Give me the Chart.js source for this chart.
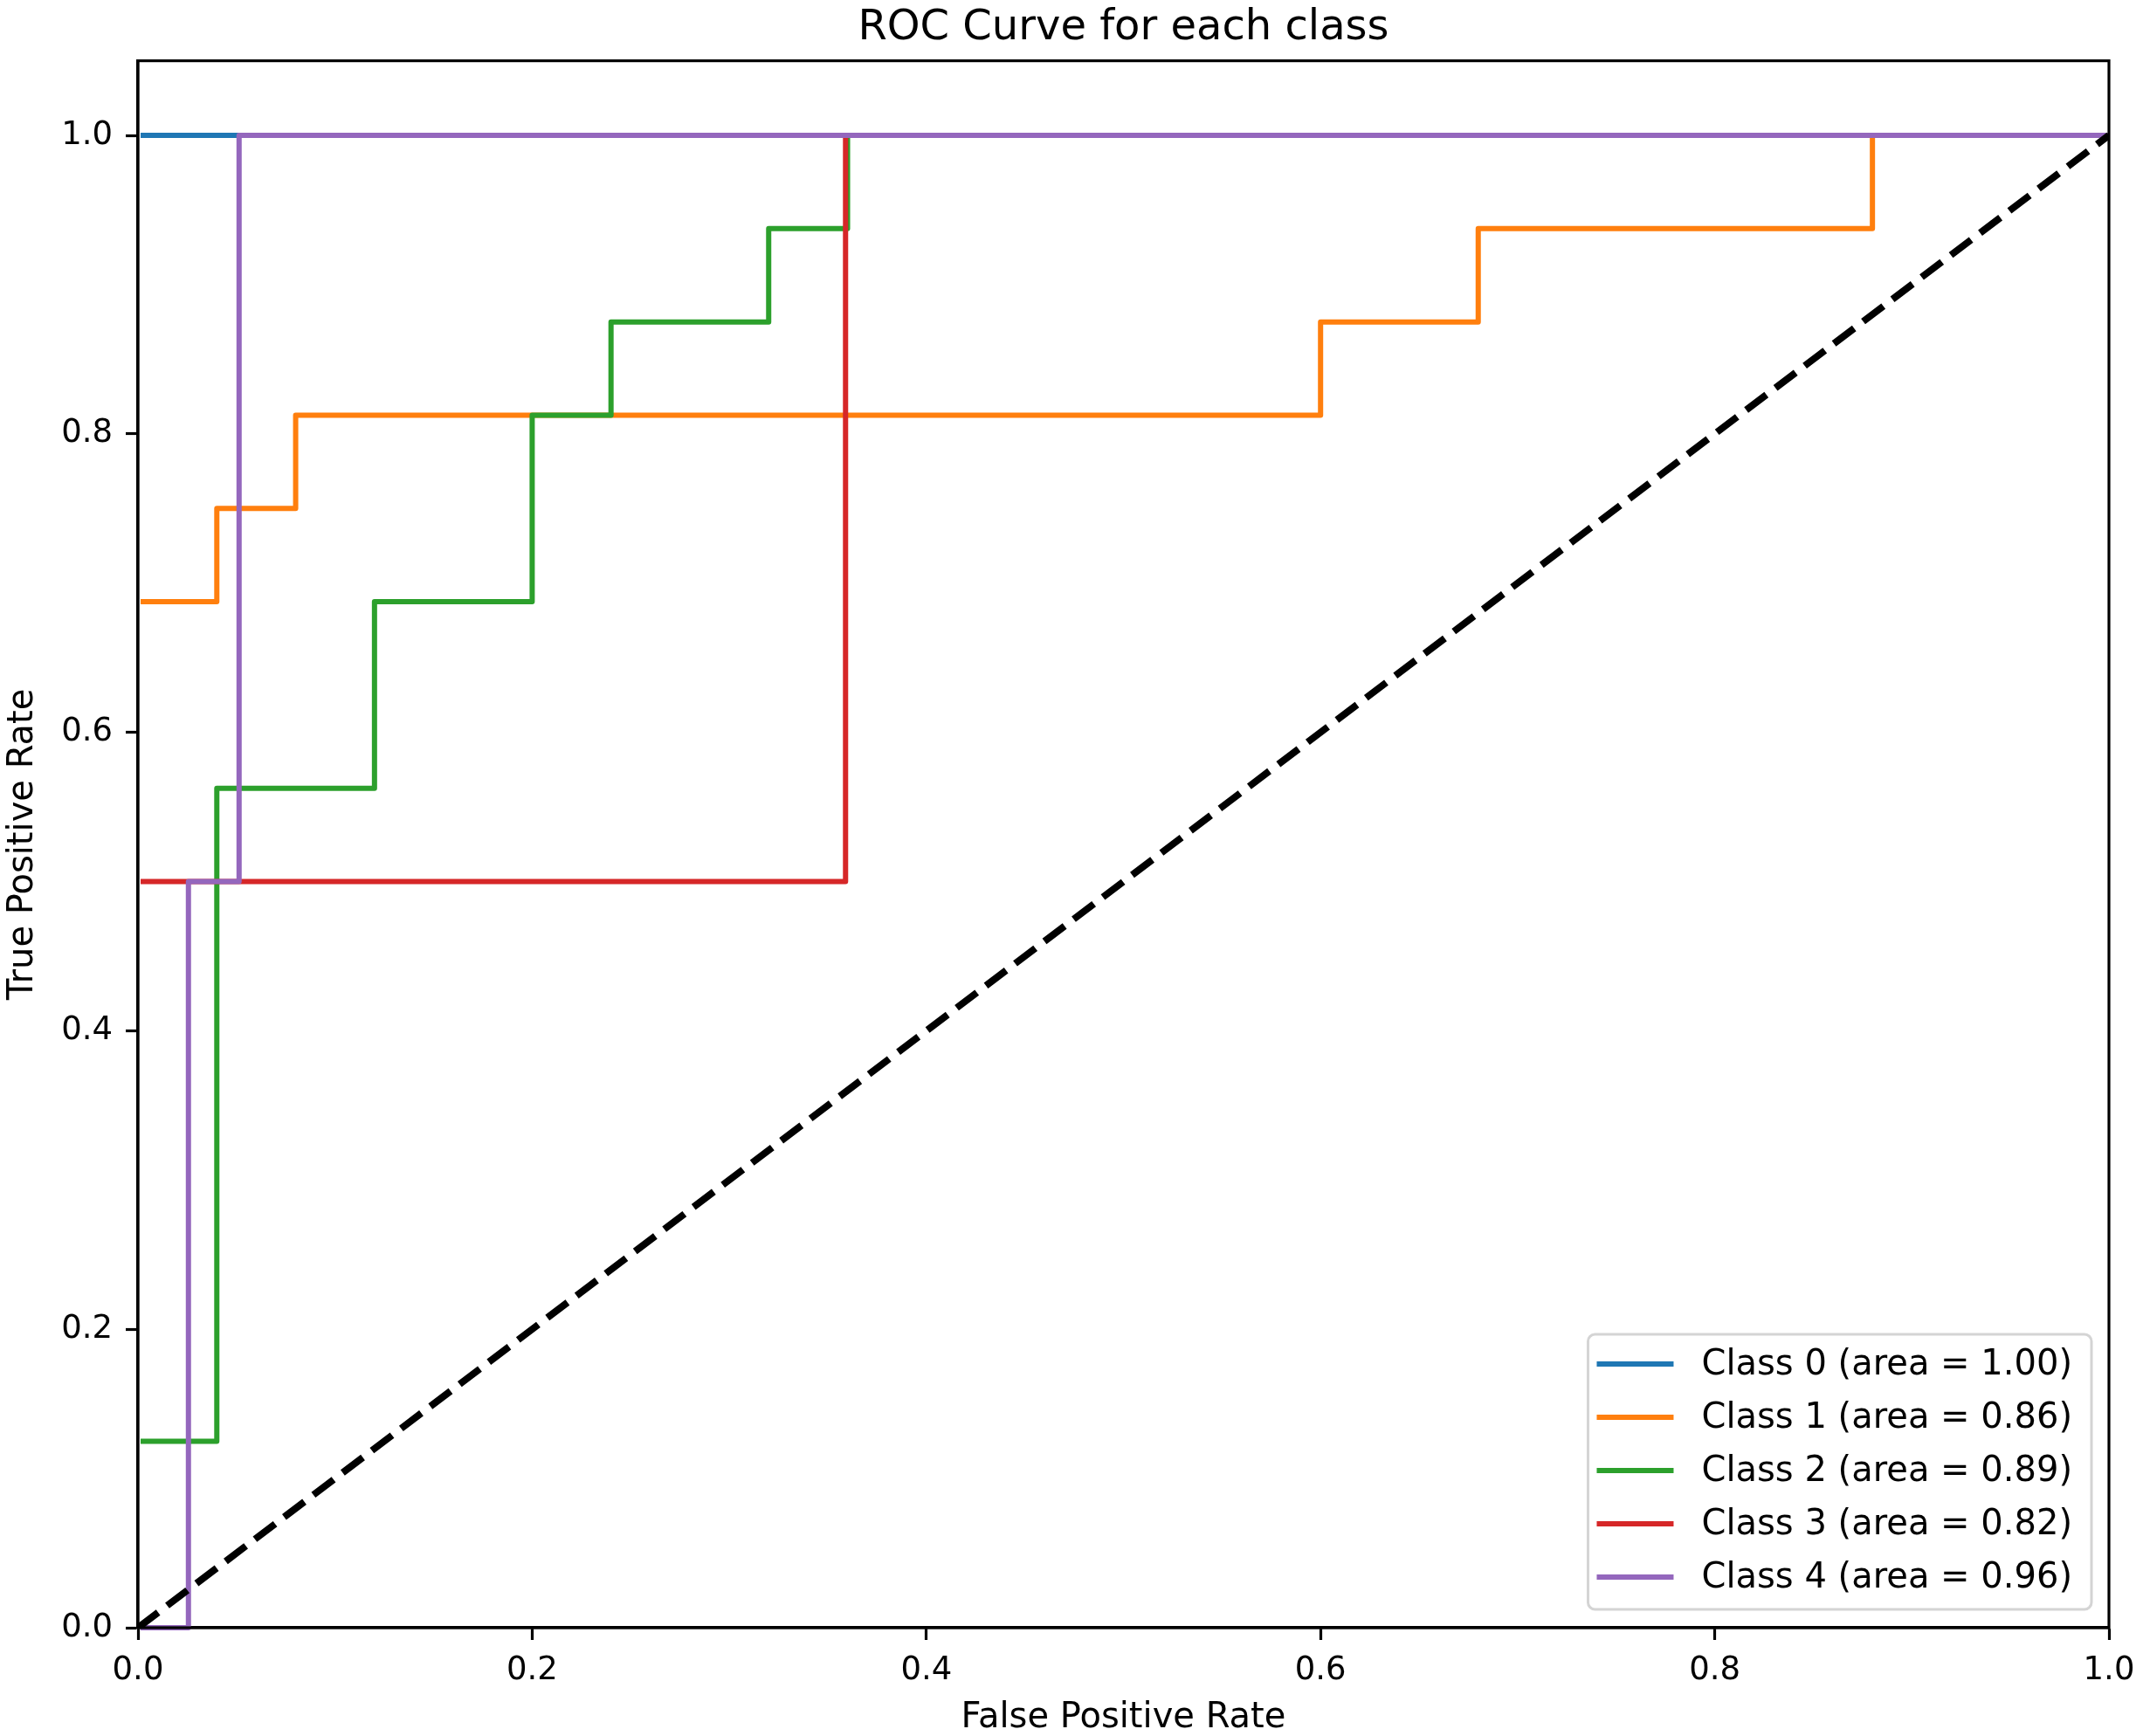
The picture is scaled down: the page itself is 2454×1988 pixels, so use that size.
<!DOCTYPE html>
<html>
<head>
<meta charset="utf-8">
<script src="https://cdn.jsdelivr.net/npm/chart.js@4.4.1/dist/chart.umd.min.js"></script>
<style>
  html, body { margin: 0; padding: 0; background: #ffffff; }
  #wrap { width: 2454px; height: 1988px; }
</style>
</head>
<body>
<div id="wrap"><canvas id="c" width="2454" height="1988"></canvas></div>
<script>
// ---------------- DATA ----------------
const chartTitle = 'ROC Curve for each class';
const xAxisTitle = 'False Positive Rate';
const yAxisTitle = 'True Positive Rate';

const classLabels = [
  'Class 0 (area = 1.00)',
  'Class 1 (area = 0.86)',
  'Class 2 (area = 0.89)',
  'Class 3 (area = 0.82)',
  'Class 4 (area = 0.96)'
];
const classColors = ['#1f77b4', '#ff7f0e', '#2ca02c', '#d62728', '#9467bd'];

const fpr0 = [0, 0, 1];
const tpr0 = [0, 1, 1];

const fpr1 = [0, 0, 0.04, 0.04, 0.08, 0.08, 0.60, 0.60, 0.68, 0.68, 0.88, 0.88, 1];
const tpr1 = [0, 0.6875, 0.6875, 0.75, 0.75, 0.8125, 0.8125, 0.875, 0.875, 0.9375, 0.9375, 1, 1];

const fpr2 = [0, 0, 0.04, 0.04, 0.12, 0.12, 0.20, 0.20, 0.24, 0.24, 0.32, 0.32, 0.36, 0.36, 1];
const tpr2 = [0, 0.125, 0.125, 0.5625, 0.5625, 0.6875, 0.6875, 0.8125, 0.8125, 0.875, 0.875, 0.9375, 0.9375, 1, 1];

const fpr3 = [0, 0, 0.359, 0.359, 1];
const tpr3 = [0, 0.5, 0.5, 1, 1];

const fpr4 = [0, 0.0256, 0.0256, 0.0513, 0.0513, 1];
const tpr4 = [0, 0, 0.5, 0.5, 1, 1];

const diagX = [0, 1];
const diagY = [0, 1];

const xTickValues = [0, 0.2, 0.4, 0.6, 0.8, 1.0];
const yTickValues = [0, 0.2, 0.4, 0.6, 0.8, 1.0];
const xRange = [0, 1];
const yRange = [0, 1.05];

// ---------------- BUILD ----------------
const fprs = [fpr0, fpr1, fpr2, fpr3, fpr4];
const tprs = [tpr0, tpr1, tpr2, tpr3, tpr4];
const toPts = (xs, ys) => xs.map((x, i) => ({ x: x, y: ys[i] }));

const FONT = '"DejaVu Sans", "Liberation Sans", sans-serif';
const CLIP = { left: -3, top: 3, right: 0, bottom: 3 };

const datasets = classLabels.map((lab, i) => ({
  label: lab,
  data: toPts(fprs[i], tprs[i]),
  borderColor: classColors[i],
  backgroundColor: classColors[i],
  borderWidth: 6,
  pointRadius: 0,
  showLine: true,
  tension: 0,
  fill: false,
  clip: CLIP,
  borderJoinStyle: 'round',
  borderCapStyle: 'square',
  order: 5 - i
}));
datasets.push({
  label: 'diagonal',
  data: toPts(diagX, diagY),
  borderColor: '#000000',
  backgroundColor: '#000000',
  borderWidth: 8,
  borderDash: [29, 13],
  pointRadius: 0,
  showLine: true,
  tension: 0,
  fill: false,
  clip: { left: 0, top: 0, right: 0, bottom: 0 },
  order: 0
});

const frameAndLegend = {
  id: 'frameAndLegend',
  afterDatasetsDraw(chart) {
    const { ctx, chartArea: a } = chart;
    ctx.save();
    ctx.strokeStyle = '#000000';
    ctx.lineWidth = 3.2;
    ctx.strokeRect(a.left, a.top, a.right - a.left, a.bottom - a.top);
    ctx.restore();
  },
  afterDraw(chart) {
    const { ctx, chartArea: a } = chart;
    const fs = 40;
    ctx.save();
    ctx.font = fs + 'px ' + FONT;
    let maxW = 0;
    classLabels.forEach(t => { maxW = Math.max(maxW, ctx.measureText(t).width); });
    const pad = 0.4 * fs, handleLen = 88, handlePad = 0.8 * fs;
    const rowH = 61;
    const boxW = pad + handleLen + handlePad + maxW + pad;
    const boxH = 315;
    const right = a.right - 20, bottom = a.bottom - 21;
    const left = right - boxW, top = bottom - boxH;
    ctx.beginPath();
    ctx.roundRect(left, top, boxW, boxH, 8);
    ctx.fillStyle = 'rgba(255,255,255,0.8)';
    ctx.fill();
    ctx.strokeStyle = '#d4d4d4';
    ctx.lineWidth = 3;
    ctx.stroke();
    classLabels.forEach((t, i) => {
      const cy = top + 34 + i * rowH;
      ctx.beginPath();
      ctx.strokeStyle = classColors[i];
      ctx.lineWidth = 6;
      ctx.lineCap = 'butt';
      ctx.moveTo(left + 10, cy);
      ctx.lineTo(left + 10 + handleLen, cy);
      ctx.stroke();
      ctx.fillStyle = '#000000';
      ctx.textAlign = 'left';
      ctx.textBaseline = 'middle';
      ctx.fillText(t, left + pad + handleLen + handlePad - 6, cy + 2);
    });
    ctx.restore();
  }
};

new Chart(document.getElementById('c'), {
  type: 'scatter',
  data: { datasets: datasets },
  plugins: [frameAndLegend],
  options: {
    responsive: false,
    animation: false,
    devicePixelRatio: 1,
    layout: { padding: { left: 0, right: 39, top: 0, bottom: 0 } },
    plugins: {
      legend: { display: false },
      tooltip: { enabled: false },
      title: {
        display: true,
        text: chartTitle,
        fullSize: false,
        color: '#000000',
        font: { family: FONT, size: 48, weight: 'normal', lineHeight: 1.2 },
        padding: { top: 4, bottom: 8 }
      }
    },
    scales: {
      x: {
        type: 'linear',
        min: xRange[0],
        max: xRange[1],
        afterFit(s) { s.height = 124; s.paddingLeft = 0; s.paddingRight = 0; },
        afterBuildTicks(s) { s.ticks = xTickValues.map(v => ({ value: v })); },
        ticks: {
          color: '#000000',
          font: { family: FONT, size: 37 },
          padding: 13,
          maxRotation: 0,
          autoSkip: false,
          callback: v => Number(v).toFixed(1)
        },
        grid: { drawOnChartArea: false, drawTicks: true, tickLength: 14, tickWidth: 3.2, tickColor: '#000000' },
        border: { display: true, color: '#000000', width: 3.2 },
        title: {
          display: true, text: xAxisTitle, color: '#000000',
          font: { family: FONT, size: 40, lineHeight: 1.0 },
          padding: { top: 0, bottom: 0 }
        }
      },
      y: {
        type: 'linear',
        min: yRange[0],
        max: yRange[1],
        afterFit(s) { s.width = 158; s.paddingTop = 0; s.paddingBottom = 0; },
        afterBuildTicks(s) { s.ticks = yTickValues.map(v => ({ value: v })); },
        ticks: {
          color: '#000000',
          font: { family: FONT, size: 37 },
          padding: 15,
          autoSkip: false,
          callback: v => Number(v).toFixed(1)
        },
        grid: { drawOnChartArea: false, drawTicks: true, tickLength: 14, tickWidth: 3.2, tickColor: '#000000' },
        border: { display: true, color: '#000000', width: 3.2 },
        title: {
          display: true, text: yAxisTitle, color: '#000000',
          font: { family: FONT, size: 40, lineHeight: 1.2 },
          padding: { top: 3, bottom: 0 }
        }
      }
    }
  }
});
</script>
</body>
</html>
